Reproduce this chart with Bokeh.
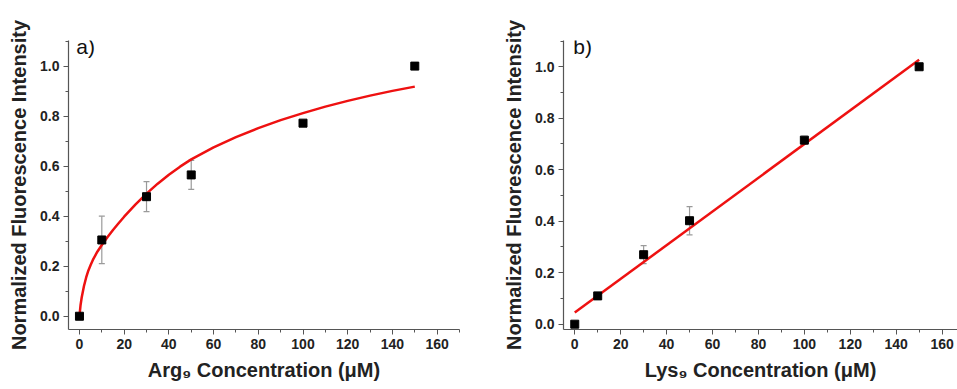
from bokeh.plotting import figure
from bokeh.layouts import row
from bokeh.models import (Range1d, SingleIntervalTicker, NumeralTickFormatter,
                          Whisker, TeeHead, ColumnDataSource, Label)
from bokeh.embed import file_html
from bokeh.resources import INLINE

# ---- data: panel a (Arg9) ----
arg_conc = [0, 10, 30, 50, 100, 150]
arg_val = [0.0, 0.305, 0.478, 0.565, 0.772, 1.0]
arg_err = [0.0, 0.095, 0.06, 0.058, 0.01, 0.0]
arg_fit_x = [0, 0.5, 1, 2, 3, 4, 5, 6, 8, 10, 12.5, 15, 17.5, 20, 25, 30, 35, 40, 45,
             50, 60, 70, 80, 90, 100, 110, 120, 130, 140, 150]
arg_fit_y = [0, 0.045, 0.075, 0.12, 0.155, 0.183, 0.205, 0.225, 0.258, 0.285, 0.316,
             0.345, 0.372, 0.398, 0.446, 0.49, 0.53, 0.566, 0.598, 0.627, 0.675, 0.716,
             0.752, 0.784, 0.812, 0.838, 0.861, 0.882, 0.901, 0.918]

# ---- data: panel b (Lys9) ----
lys_conc = [0, 10, 30, 50, 100, 150]
lys_val = [0.0, 0.11, 0.27, 0.402, 0.715, 1.0]
lys_err = [0.0, 0.01, 0.035, 0.055, 0.015, 0.005]
lys_fit_x = [0, 150]
lys_fit_y = [0.045, 1.027]

x_ticks_interval = 20
y_ticks_interval = 0.2

FONT = "Liberation Sans"


def make_panel(conc, val, err, fx, fy, xlabel, tag, xr, yr, width, border_left,
               border_right, border_bottom, tag_x, tag_y):
    p = figure(width=width, height=389, output_backend="svg", toolbar_location=None,
               x_range=Range1d(*xr), y_range=Range1d(*yr),
               min_border_left=border_left, min_border_right=border_right,
               min_border_top=40, min_border_bottom=border_bottom)
    p.outline_line_color = None
    p.grid.visible = False
    p.background_fill_color = "white"
    p.border_fill_color = "white"

    p.xaxis.ticker = SingleIntervalTicker(interval=x_ticks_interval, num_minor_ticks=2)
    p.yaxis.ticker = SingleIntervalTicker(interval=y_ticks_interval, num_minor_ticks=2)
    p.yaxis.formatter = NumeralTickFormatter(format="0.0")
    for ax in (p.xaxis, p.yaxis):
        ax.axis_line_color = "#555555"
        ax.axis_line_width = 1.2
        ax.major_tick_line_color = "#555555"
        ax.minor_tick_line_color = "#555555"
        ax.major_tick_in = 0
        ax.major_tick_out = 5
        ax.minor_tick_in = 0
        ax.minor_tick_out = 3
        ax.major_label_text_font = FONT
        ax.major_label_text_font_style = "bold"
        ax.major_label_text_font_size = "14px"
        ax.major_label_text_color = "#222222"
        ax.axis_label_text_font = FONT
        ax.axis_label_text_font_style = "bold"
        ax.axis_label_text_font_size = "20px"
        ax.axis_label_text_color = "#222222"
    p.xaxis.axis_label = xlabel
    p.yaxis.axis_label = "Normalized Fluorescence Intensity"
    p.xaxis.major_label_standoff = 4
    p.yaxis.major_label_standoff = 4
    p.xaxis.axis_label_standoff = 7
    p.yaxis.axis_label_standoff = 7

    src = ColumnDataSource(dict(x=conc, y=val,
                                lo=[v - e for v, e in zip(val, err)],
                                hi=[v + e for v, e in zip(val, err)]))
    wh = Whisker(base="x", upper="hi", lower="lo", source=src,
                 line_color="#9a9a9a", line_width=1.2,
                 upper_head=TeeHead(size=6, line_color="#9a9a9a", line_width=1.2),
                 lower_head=TeeHead(size=6, line_color="#9a9a9a", line_width=1.2))
    p.add_layout(wh)
    p.line(fx, fy, line_color="#ee1111", line_width=2.5, line_join="round")
    p.scatter("x", "y", source=src, marker="square", size=8, fill_color="black",
              line_color="black")

    p.add_layout(Label(x=tag_x, y=tag_y, text=tag, text_font=FONT,
                       text_font_size="21px", text_color="#111111",
                       text_baseline="alphabetic"))
    return p


pa = make_panel(arg_conc, arg_val, arg_err, arg_fit_x, arg_fit_y,
                "Arg₉ Concentration (μM)", "a)", (-4.9, 170), (-0.053, 1.1024),
                478, 68, 19, 59, -1.4, 1.08)
pb = make_panel(lys_conc, lys_val, lys_err, lys_fit_x, lys_fit_y,
                "Lys₉ Concentration (μM)", "b)", (-4.9, 166.7), (-0.0206, 1.102),
                479, 85, 0, 60, -0.6, 1.08)

layout = row(pa, pb)
open("out.html", "w").write(file_html(layout, INLINE))
